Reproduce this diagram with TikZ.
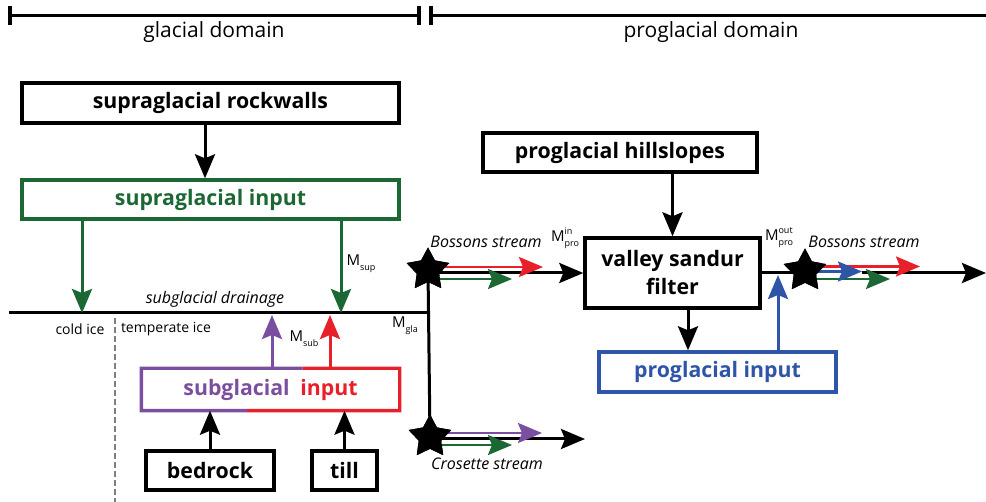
\documentclass[tikz,border=0pt]{standalone}
\usepackage{fontspec}
\setmainfont{Open Sans}
\usetikzlibrary{arrows.meta, calc, positioning, shapes.geometric}
\definecolor{glgreen}{RGB}{27,104,52}
\definecolor{glpurple}{RGB}{123,79,160}
\definecolor{glred}{RGB}{232,32,42}
\definecolor{glblue}{RGB}{47,85,168}
\tikzstyle{box}=[draw, line width=3.4pt, inner sep=0pt, font=\fontsize{21.3}{28}\selectfont\bfseries]
\tikzstyle{flow}=[line width=3pt, -{Stealth[length=24pt,width=20pt,inset=4pt]}]
\tikzstyle{flux}=[line width=2.6pt, -{Stealth[length=24pt,width=20pt,inset=4pt]}, preaction={draw=white, line width=6.5pt, -}]
\tikzstyle{src}=[star, star points=5, star point ratio=1.9, fill=black, minimum size=45pt, inner sep=0pt]
\tikzstyle{region}=[font=\fontsize{21}{25}\selectfont]
\tikzstyle{stream}=[font=\fontsize{16}{19}\selectfont\itshape]
\tikzstyle{note}=[font=\fontsize{14}{16}\selectfont]
\tikzstyle{mlabel}=[font=\fontsize{15}{17}\selectfont, inner sep=0pt]
\newcommand{\mflow}[2]{M\rlap{\fontsize{9}{9}\selectfont\raisebox{7pt}{#2}}{\fontsize{9}{9}\selectfont\raisebox{-5pt}{#1}}}

\begin{document}
\begin{tikzpicture}[x=1pt, y=-1pt]
  \useasboundingbox (0,0) rectangle (986,502);
  % domains
  \draw[line width=2.5pt] (10,15.5) -- (419,15.5) (431,15.5) -- (986,15.5);
  \draw[line width=3.2pt] (10,6) -- (10,25) (419,6) -- (419,25) (431,6) -- (431,25);
  \node[region] (glacial) at (214,32) {glacial domain};
  \node[region] (proglacial) at (711,32) {proglacial domain};

  % glacial boxes
  \node[box, minimum width=377pt, minimum height=40pt] (rock) at (210.5,103) {supraglacial rockwalls};
  \node[box, draw=glgreen, text=glgreen, minimum width=377pt, minimum height=39pt] (supin) at (210.5,199.5) {supraglacial input};
  \node[box, draw=none, minimum width=255pt, minimum height=39pt] (subin) at (270.5,389.5) {\textcolor{glpurple}{subglacial}\hspace{0.5em}\textcolor{glred}{input}\hspace{5pt}};
  \draw[line width=3.4pt, glpurple] ($(subin.north west)!0.624!(subin.north east)$) -- (subin.north west) -- (subin.south west) -- ($(subin.south west)!0.41!(subin.south east)$);
  \draw[line width=3.4pt, glred] ($(subin.north west)!0.624!(subin.north east)$) -- (subin.north east) -- (subin.south east) -- ($(subin.south west)!0.41!(subin.south east)$);
  \node[box, minimum width=128pt, minimum height=39pt] (bedrock) at (210,470.5) {bedrock};
  \node[box, minimum width=65pt, minimum height=39pt] (till) at (344.5,470.5) {till};

  % proglacial boxes
  \node[box, minimum width=274pt, minimum height=39pt] (hill) at (620,152.5) {proglacial hillslopes};
  \node[box, minimum width=175pt, minimum height=70pt, align=center] (valley) at (672.5,273) {valley sandur\\filter};
  \node[box, draw=glblue, text=glblue, minimum width=237pt, minimum height=40pt] (proin) at (717.5,372) {proglacial input};

  % subglacial drainage and ice
  \coordinate (dl) at (9,313);
  \coordinate (dr) at (430,313);
  \draw[line width=3pt] (dl) -- (dr);
  \draw[line width=2.6pt, gray, dash pattern=on 6pt off 3pt] (115,318) -- (115,502);
  \node[stream] (drainage) at (215,299) {subglacial drainage};
  \node[note] (cold) at (80,329) {cold ice};
  \node[note] (temperate) at (166,329) {temperate ice};

  % glacial fluxes
  \coordinate (rk) at (205,0);
  \coordinate (g1) at (82,313);
  \coordinate (g2) at (341,313);
  \coordinate (p1) at (272,315);
  \coordinate (r1) at (330,315);
  \draw[flow] (rock.south -| rk) -- (supin.north -| rk);
  \draw[flow, glgreen] (supin.south -| g1) -- (g1);
  \draw[flow, glgreen] (supin.south -| g2) -- (g2);
  \draw[flow, glpurple] (subin.north -| p1) -- (p1);
  \draw[flow, glred] (subin.north -| r1) -- (r1);
  \draw[flow] (bedrock.north) -- (bedrock.north |- subin.south);
  \draw[flow] (till.north) -- (till.north |- subin.south);
  \node[mlabel] (msup) at (361,264) {\mflow{sup}{}};
  \node[mlabel] (msub) at (304,339) {\mflow{sub}{}};
  \node[mlabel] (mgla) at (405,326) {\mflow{gla}{}};

  % streams
  \node[src] (starb) at (428,270) {};
  \node[src] (starc) at (430,437) {};
  \node[src] (starout) at (805,271) {};
  \coordinate (crosend) at (585,439);
  \coordinate (outend) at (986,273);
  \coordinate (bred) at (543,267);
  \coordinate (bgreen) at (512,279);
  \coordinate (cpurple) at (542,433);
  \coordinate (cgreen) at (512,445);
  \coordinate (ored) at (920,266.5);
  \coordinate (oblue) at (862,271.5);
  \coordinate (ogreen) at (890,279);
  \coordinate (vd) at (688,0);
  \coordinate (pu) at (778,275);
  \draw[line width=3pt] (starb.center) -- (starc.center);
  \draw[flow] (starb.center |- valley.west) -- (valley.west);
  \draw[flow] (starc.center |- crosend) -- (crosend);
  \draw[flow] (valley.east) -- (outend);
  \draw[flow] (valley.north |- hill.south) -- (valley.north);
  \draw[flow] (valley.south -| vd) -- (proin.north -| vd);
  \draw[flow, glblue] (proin.north -| pu) -- (pu);
  \draw[flux, glred] (starb.center |- bred) -- (bred);
  \draw[flux, glgreen] (starb.center |- bgreen) -- (bgreen);
  \draw[flux, glpurple] (starc.center |- cpurple) -- (cpurple);
  \draw[flux, glgreen] (starc.center |- cgreen) -- (cgreen);
  \draw[flux, glred] (starout.center |- ored) -- (ored);
  \draw[flux, glgreen] (starout.center |- ogreen) -- (ogreen);
  \draw[flux, glblue] (starout.center |- oblue) -- (oblue);
  \node[src] at (starb) {};
  \node[src] at (starc) {};
  \node[src] at (starout) {};
  \node[stream] (bossin) at (486,242) {Bossons stream};
  \node[stream] (bossout) at (864,242) {Bossons stream};
  \node[stream] (crosette) at (487,464) {Crosette stream};
  \node[mlabel] (mproin) at (565,238) {\mflow{pro}{in}};
  \node[mlabel] (mproout) at (779,238) {\mflow{pro}{out}};
\end{tikzpicture}
\end{document}
